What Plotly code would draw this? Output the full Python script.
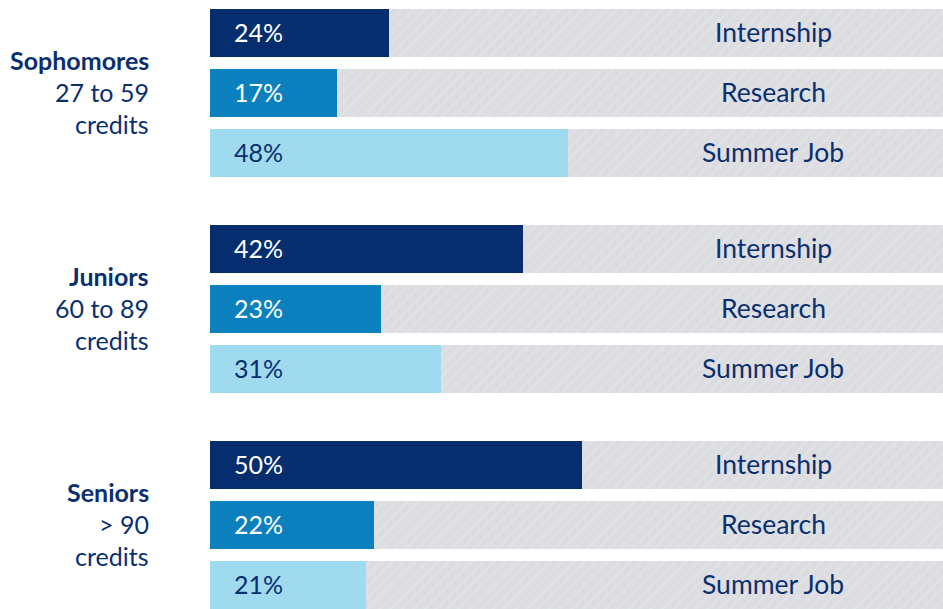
import plotly.graph_objects as go

groups = ["Sophomores", "Juniors", "Seniors"]
group_ranges = ["27 to 59", "60 to 89", "> 90"]
kinds = ["Internship", "Research", "Summer Job"]
values = [
    [24, 17, 48],   # Sophomores
    [42, 23, 31],   # Juniors
    [50, 22, 21],   # Seniors
]

bar_colors = ["#062e6f", "#0b80be", "#a0daee"]
pct_colors = ["white", "white", "#0a2f6e"]
navy = "#0a2f6e"
font_family = "Lato, 'Open Sans', sans-serif"
fsize = 25

# row positions: 3 rows per group, extra gap between groups
ypos = []
for g in range(3):
    for k in range(3):
        ypos.append(g * 3.6 + k)

fig = go.Figure()

# grey hatched background (100%)
fig.add_trace(go.Bar(
    y=ypos, x=[100] * 9, orientation="h", width=0.8,
    marker=dict(color="#dcdde0", line_width=0,
                pattern=dict(shape="/", fgcolor="#ebebed", size=8, solidity=0.2)),
    hoverinfo="skip", showlegend=False,
))

for k in range(3):
    ys = [ypos[g * 3 + k] for g in range(3)]
    xs = [values[g][k] for g in range(3)]
    fig.add_trace(go.Bar(
        y=ys, x=xs, orientation="h", width=0.8,
        marker=dict(color=bar_colors[k], line_width=0),
        name=kinds[k], showlegend=False,
    ))
    for y, v in zip(ys, xs):
        fig.add_annotation(x=0, y=y - 0.02, text=f"{v}%", showarrow=False,
                           xanchor="left", xshift=22,
                           font=dict(family=font_family, size=fsize, color=pct_colors[k]))
        fig.add_annotation(x=75.6, y=y - 0.02, text=kinds[k], showarrow=False,
                           xanchor="center",
                           font=dict(family=font_family, size=26.5, color=navy))

for g in range(3):
    mid = ypos[g * 3 + 1]
    lines = [f"<b>{groups[g]}</b>", group_ranges[g], "credits"]
    for i, t in enumerate(lines):
        fig.add_annotation(x=0, y=mid + (i - 1) * 0.533 - 0.02, text=t, showarrow=False,
                           xanchor="right", xshift=-59,
                           font=dict(family=font_family, size=fsize, color=navy))

fig.update_layout(
    width=943, height=609,
    margin=dict(l=210, r=0, t=9, b=0),
    barmode="overlay", bargap=0,
    plot_bgcolor="white", paper_bgcolor="white",
    xaxis=dict(range=[0, 98.4], visible=False, fixedrange=True),
    yaxis=dict(range=[9.6, -0.4], visible=False, fixedrange=True),
)

# drop the default page margin so the figure fills the window
fig.write_html("out.html", config={"displayModeBar": False},
               post_script="document.body.style.margin='0';document.body.style.overflow='hidden';")
